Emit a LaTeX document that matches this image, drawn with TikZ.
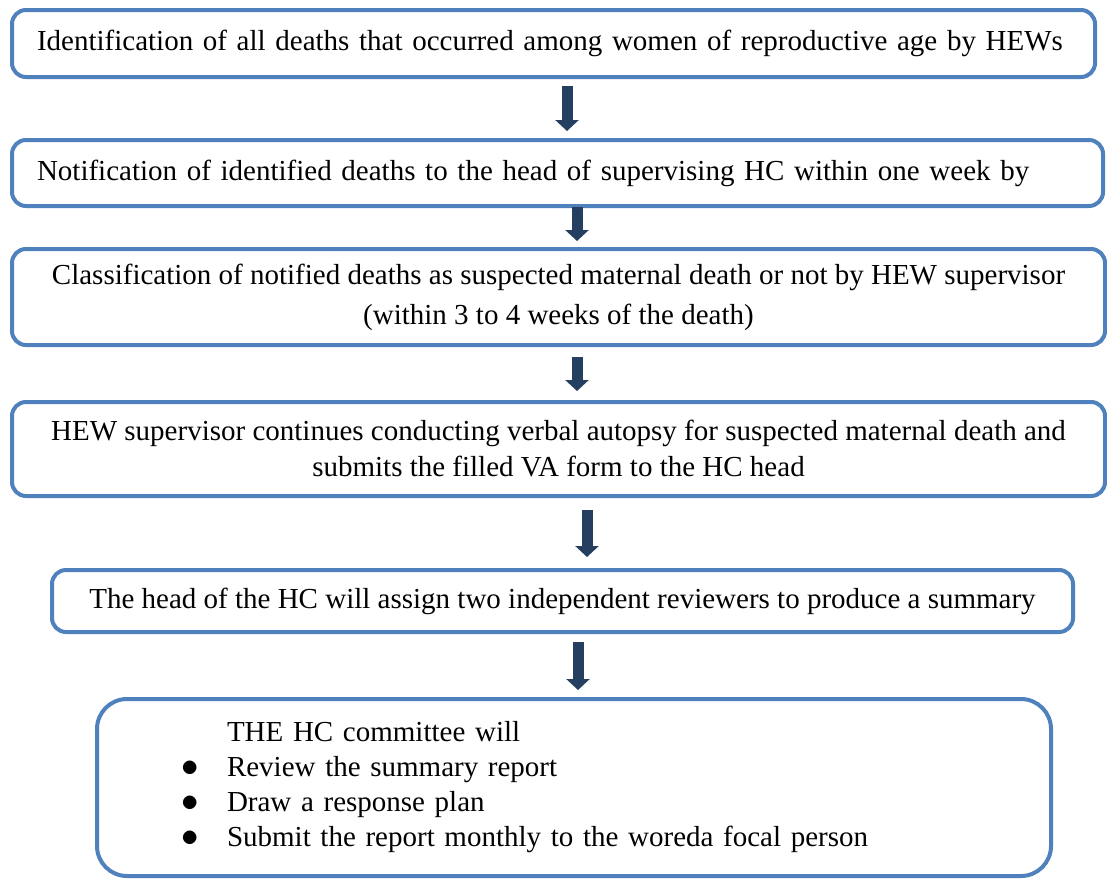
\documentclass[tikz,border=0pt]{standalone}
\usepackage{fontspec}
\setmainfont{Liberation Serif}
\usepackage{xcolor}
\usepackage{graphicx}
\usetikzlibrary{arrows.meta}
\usetikzlibrary{positioning}

\definecolor{boxblue}{HTML}{4F81BD}
\definecolor{arrownavy}{HTML}{243F60}

\newcommand{\stepbullet}{\makebox[47pt][l]{\hspace*{1pt}\scalebox{1.4}{$\bullet$}}}

\begin{document}
\begin{tikzpicture}[x=1pt,y=-1pt,
	flowbox/.style={draw=boxblue, line width=4pt, rounded corners=14pt, fill=white,
		inner sep=0pt, font=\fontsize{29}{36}\selectfont},
	flowarrow/.style={draw=arrownavy, line width=11pt, -{Triangle[length=11pt,width=23pt]}}]

\useasboundingbox (0,0) rectangle (1107,878);

% the six steps
\node[flowbox, minimum width=1083pt, minimum height=67pt, text width=1033pt, align=left]
	(ident) at (553.5,43.5) {Identification of all deaths that occurred among women of reproductive age by HEWs};
\node[flowbox, minimum width=1091pt, minimum height=66pt, text width=1041pt, align=left]
	(notif) at (557.5,173) {Notification of identified deaths to the head of supervising HC within one week by};
\node[flowbox, minimum width=1093pt, minimum height=96pt, align=center]
	(classif) at (558.5,297) {Classification of notified deaths as suspected maternal death or not by HEW supervisor\\[4pt](within 3 to 4 weeks of the death)};
\node[flowbox, minimum width=1093pt, minimum height=94pt, align=center]
	(autopsy) at (558.5,449) {HEW supervisor continues conducting verbal autopsy for suspected maternal death and\\submits the filled VA form to the HC head};
\node[flowbox, minimum width=1021pt, minimum height=62pt, align=center]
	(assign) at (562.5,601) {The head of the HC will assign two independent reviewers to produce a summary};
\node[flowbox, rounded corners=30pt, minimum width=954pt, minimum height=177pt, text width=788pt, align=left]
	(committee) at (574,787.5) {\hspace*{47pt}THE HC committee will\\[-1pt]
		\stepbullet Review the summary report\\[-1pt]
		\stepbullet Draw a response plan\\[-1pt]
		\stepbullet Submit the report monthly to the woreda focal person};

% arrows between steps
\draw[flowarrow] ([xshift=13.5pt,yshift=-7pt]ident.south) -- ([xshift=9.5pt,yshift=7pt]notif.north);
\draw[flowarrow] ([xshift=19.5pt,yshift=1pt]notif.south) -- ([xshift=18.5pt,yshift=6pt]classif.north);
\draw[flowarrow] ([xshift=18.5pt,yshift=-10pt]classif.south) -- ([xshift=18.5pt,yshift=9pt]autopsy.north);
\draw[flowarrow] ([xshift=28.5pt,yshift=-12pt]autopsy.south) -- ([xshift=24.5pt,yshift=11pt]assign.north);
\draw[flowarrow] ([xshift=15.5pt,yshift=-8pt]assign.south) -- ([xshift=4pt,yshift=7pt]committee.north);

\end{tikzpicture}
\end{document}
